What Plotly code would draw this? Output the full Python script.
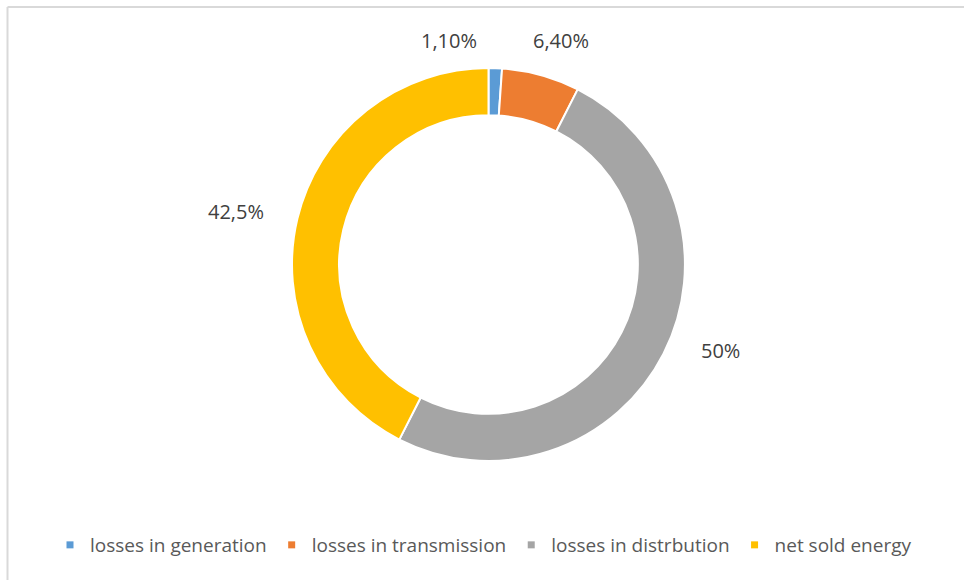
import plotly.graph_objects as go

# Share of primary energy by where it ends up
categories = ["losses in generation", "losses in transmission",
              "losses in distrbution", "net sold energy"]
shares = [1.1, 6.4, 50.0, 42.5]
value_labels = ["1,10%", "6,40%", "50%", "42,5%"]

colors = ["#5B9BD5", "#ED7D31", "#A5A5A5", "#FFC000"]

W, H = 964, 580

# Label centres in pixels (x, y from top-left)
label_px = [(449, 40), (561, 40), (720, 350), (236, 211)]

fig = go.Figure()

fig.add_trace(go.Pie(
    labels=categories,
    values=shares,
    hole=0.76,
    sort=False,
    direction="clockwise",
    rotation=0,
    marker=dict(colors=colors, line=dict(color="white", width=2)),
    textinfo="none",
    hoverinfo="label+percent",
    showlegend=False,
    domain=dict(x=[292 / W, 685 / W], y=[1 - 461 / H, 1 - 68 / H]),
))

# Legend entries with small square swatches
for name, col in zip(categories, colors):
    fig.add_trace(go.Scatter(
        x=[None], y=[None], mode="markers", name=name,
        marker=dict(symbol="square", size=7, color=col),
        showlegend=True,
    ))

annotations = []
for txt, (px, py) in zip(value_labels, label_px):
    annotations.append(dict(
        text=txt, x=px / W, y=1 - py / H, xref="paper", yref="paper",
        xanchor="center", yanchor="middle", showarrow=False,
        font=dict(family="Open Sans", size=20, color="#404040"),
    ))

fig.update_layout(
    width=W, height=H,
    margin=dict(l=0, r=0, t=0, b=0),
    paper_bgcolor="white", plot_bgcolor="white",
    xaxis=dict(visible=False), yaxis=dict(visible=False),
    annotations=annotations,
    legend=dict(
        orientation="h", x=50 / W, y=1 - 545 / H,
        xanchor="left", yanchor="middle",
        font=dict(family="Open Sans", size=19, color="#595959"),
        itemwidth=30, tracegroupgap=0,
    ),
    shapes=[
        dict(type="line", xref="paper", yref="paper",
             x0=7.5 / W, x1=1, y0=1 - 7 / H, y1=1 - 7 / H,
             line=dict(color="#D9D9D9", width=2)),
        dict(type="line", xref="paper", yref="paper",
             x0=7.5 / W, x1=7.5 / W, y0=0, y1=1 - 7 / H,
             line=dict(color="#D9D9D9", width=2)),
    ],
)

fig.write_html("out.html")
